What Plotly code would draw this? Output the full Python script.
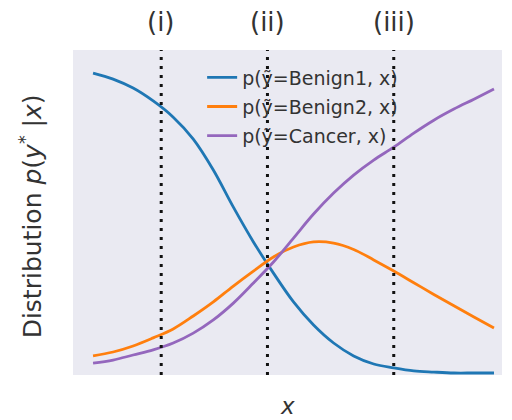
import plotly.graph_objects as go

# Position along x (arbitrary units) and the three class curves
x_vals = [0.0, 0.5, 1.0, 1.5, 2.0, 2.5, 3.0, 3.5, 4.0, 4.5, 5.0,
          5.5, 6.0, 6.5, 7.0, 7.5, 8.0, 8.5, 9.0, 9.5, 10.0]
benign1 = [1.0, 0.98, 0.95, 0.907, 0.853, 0.78, 0.677, 0.553, 0.437, 0.333, 0.237,
           0.16, 0.1, 0.057, 0.03, 0.017, 0.007, 0.003, 0.0, 0.0, 0.0]
benign2 = [0.057, 0.07, 0.09, 0.117, 0.147, 0.19, 0.237, 0.29, 0.34, 0.387, 0.42,
           0.437, 0.433, 0.412, 0.377, 0.34, 0.301, 0.262, 0.224, 0.187, 0.15]
cancer = [0.033, 0.043, 0.06, 0.077, 0.1, 0.133, 0.177, 0.233, 0.3, 0.37, 0.45,
          0.53, 0.6, 0.66, 0.71, 0.753, 0.8, 0.843, 0.88, 0.913, 0.947]

series_names = ["p(ỹ=Benign1, x)", "p(ỹ=Benign2, x)", "p(ỹ=Cancer, x)"]
series_colors = ["#1f77b4", "#ff7f0e", "#9467bd"]

# Marked positions along x and their labels
marker_x = [1.7, 4.35, 7.5]
marker_labels = ["(i)", "(ii)", "(iii)"]

TEXT = "#333333"
FONT = "DejaVu Sans"

fig = go.Figure()
for name, ys, col in zip(series_names, [benign1, benign2, cancer], series_colors):
    fig.add_trace(go.Scatter(
        x=x_vals, y=ys, mode="lines", name=name, legendgroup=name,
        line=dict(color=col, width=2.8, shape="spline", smoothing=1.0),
    ))

for xv, lab in zip(marker_x, marker_labels):
    fig.add_shape(type="line", xref="x", yref="paper", x0=xv, x1=xv, y0=0, y1=1,
                  line=dict(color="#111111", width=3, dash="3px,6px"), layer="above")
    fig.add_annotation(x=xv, xref="x", y=1.086, yref="paper", text=lab,
                       showarrow=False, yanchor="middle", xanchor="center",
                       font=dict(family=FONT, size=26, color=TEXT))

# Axis labels
fig.add_annotation(x=-0.098, xref="paper", y=0.488, yref="paper",
                   text="Distribution <i>p</i>(<i>y</i><sup>*</sup> |<i>x</i>)",
                   textangle=-90, showarrow=False, xanchor="center", yanchor="middle",
                   font=dict(family=FONT, size=25, color=TEXT))
fig.add_annotation(x=0.5, xref="paper", y=-0.095, yref="paper", text="<i>x</i>",
                   showarrow=False, xanchor="center", yanchor="middle",
                   font=dict(family=FONT, size=23, color=TEXT))

fig.update_layout(
    width=512, height=420,
    margin=dict(l=73, r=10, t=50, b=45),
    paper_bgcolor="white", plot_bgcolor="#EAEAF2",
    showlegend=True,
    legend=dict(x=0.301, y=0.974, xanchor="left", yanchor="top",
                bgcolor="rgba(0,0,0,0)", borderwidth=0,
                traceorder="grouped", tracegroupgap=1.5,
                font=dict(family=FONT, size=19, color=TEXT)),
    xaxis=dict(range=[-0.5, 10.2], showgrid=False, zeroline=False,
               showticklabels=False, ticks=""),
    yaxis=dict(range=[-0.0067, 1.077], showgrid=False, zeroline=False,
               showticklabels=False, ticks=""),
)

fig.write_html("out.html")
